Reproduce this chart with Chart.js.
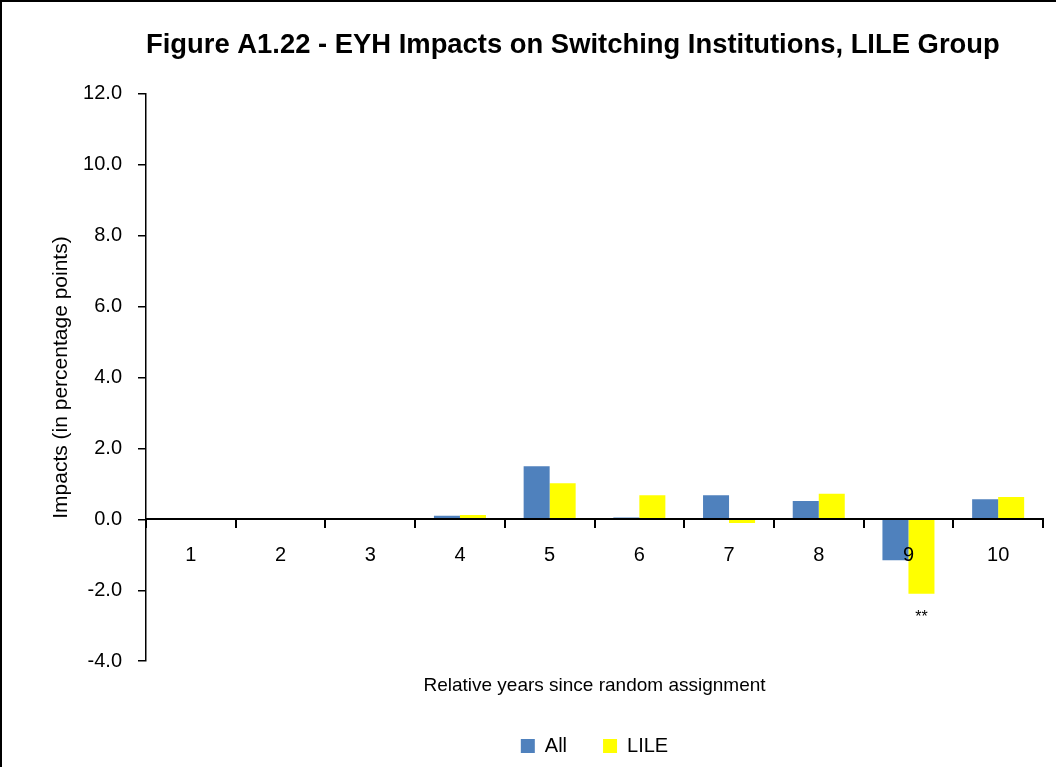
<!DOCTYPE html>
<html>
<head>
<meta charset="utf-8">
<script src="https://cdn.jsdelivr.net/npm/chart.js@4.4.1/dist/chart.umd.min.js"></script>
<style>
    body { margin: 0; background: #fff; }
    #frame { position: absolute; left: 0; top: 0; width: 1054px; height: 765px;
             border-top: 2px solid #000; border-left: 2px solid #000; }
</style>
</head>
<body>
<div id="frame"><canvas id="myChart" width="1054" height="765"></canvas></div>
<script>
// Dados do gráfico
const categories = ['1', '2', '3', '4', '5', '6', '7', '8', '9', '10'];
const allValues = [null, null, null, 0.10, 1.50, 0.05, 0.68, 0.52, -1.15, 0.57];
const lileValues = [null, null, null, 0.12, 1.02, 0.68, -0.10, 0.72, -2.10, 0.63];
const sigLabels = ['', '', '', '', '', '', '', '', '**', ''];
const yTicks = [-4, -2, 0, 2, 4, 6, 8, 10, 12];

const FONT = "'Liberation Sans Narrow', 'Liberation Sans', Arial, sans-serif";

// Plugin para as estrelas de significância abaixo das barras
const sigPlugin = {
    id: 'sigPlugin',
    afterDatasetsDraw(chart) {
        const ctx = chart.ctx;
        const meta = chart.getDatasetMeta(1);
        ctx.save();
        ctx.font = '16px ' + FONT;
        ctx.fillStyle = '#000';
        ctx.textAlign = 'center';
        ctx.textBaseline = 'middle';
        sigLabels.forEach((s, i) => {
            if (!s || !meta.data[i]) return;
            const bar = meta.data[i];
            const v = lileValues[i];
            const y = v < 0 ? bar.y + 24 : bar.y - 12;
            ctx.fillText(s, bar.x, y);
        });
        ctx.restore();
    }
};

const ctx = document.getElementById('myChart').getContext('2d');
const myChart = new Chart(ctx, {
    type: 'bar',
    data: {
        labels: categories,
        datasets: [{
            label: 'All',
            data: allValues,
            backgroundColor: '#4F81BD',
            categoryPercentage: 0.58,
            barPercentage: 1.0
        }, {
            label: 'LILE',
            data: lileValues,
            backgroundColor: '#FFFF00',
            categoryPercentage: 0.58,
            barPercentage: 1.0
        }]
    },
    options: {
        responsive: false,
        animation: false,
        layout: { padding: { left: 0, right: 13, top: 0, bottom: 1 } },
        plugins: {
            title: {
                display: true,
                text: 'Figure A1.22 - EYH Impacts on Switching Institutions, LILE Group',
                fullSize: false,
                align: 'start',
                color: '#000',
                font: { family: FONT, size: 27.4, weight: 'bold' },
                padding: { top: 27, bottom: 32 }
            },
            legend: {
                position: 'bottom',
                fullSize: false,
                labels: {
                    color: '#000',
                    font: { family: FONT, size: 20 },
                    boxWidth: 14,
                    boxHeight: 14,
                    padding: 36
                }
            },
            tooltip: { enabled: false }
        },
        scales: {
            y: {
                min: -4,
                max: 12,
                afterBuildTicks: scale => { scale.ticks = yTicks.map(v => ({ value: v })); },
                afterFit: scale => { scale.width = 144; },
                ticks: {
                    color: '#000',
                    font: { family: FONT, size: 20 },
                    padding: 16,
                    callback: v => v.toFixed(1)
                },
                grid: { drawOnChartArea: false, tickLength: 8, color: '#000', lineWidth: 1.5 },
                border: { color: '#000', width: 1.5 },
                title: {
                    display: true,
                    text: 'Impacts (in percentage points)',
                    color: '#000',
                    font: { family: FONT, size: 21 },
                    padding: { top: 47, bottom: 0 }
                }
            },
            x: {
                position: { y: 0 },
                ticks: {
                    z: 1,
                    color: '#000',
                    font: { family: FONT, size: 20 },
                    padding: 16
                },
                grid: { drawOnChartArea: false, tickLength: 8, color: '#000', lineWidth: 2, offset: true },
                border: { color: '#000', width: 2, z: 1 }
            },
            x2: {
                type: 'category',
                position: 'bottom',
                labels: categories,
                ticks: { display: false },
                grid: { display: false },
                border: { display: false },
                title: {
                    display: true,
                    text: 'Relative years since random assignment',
                    color: '#000',
                    font: { family: FONT, size: 19 },
                    padding: { top: 5, bottom: 3 }
                }
            }
        }
    },
    plugins: [sigPlugin]
});
</script>
</body>
</html>
